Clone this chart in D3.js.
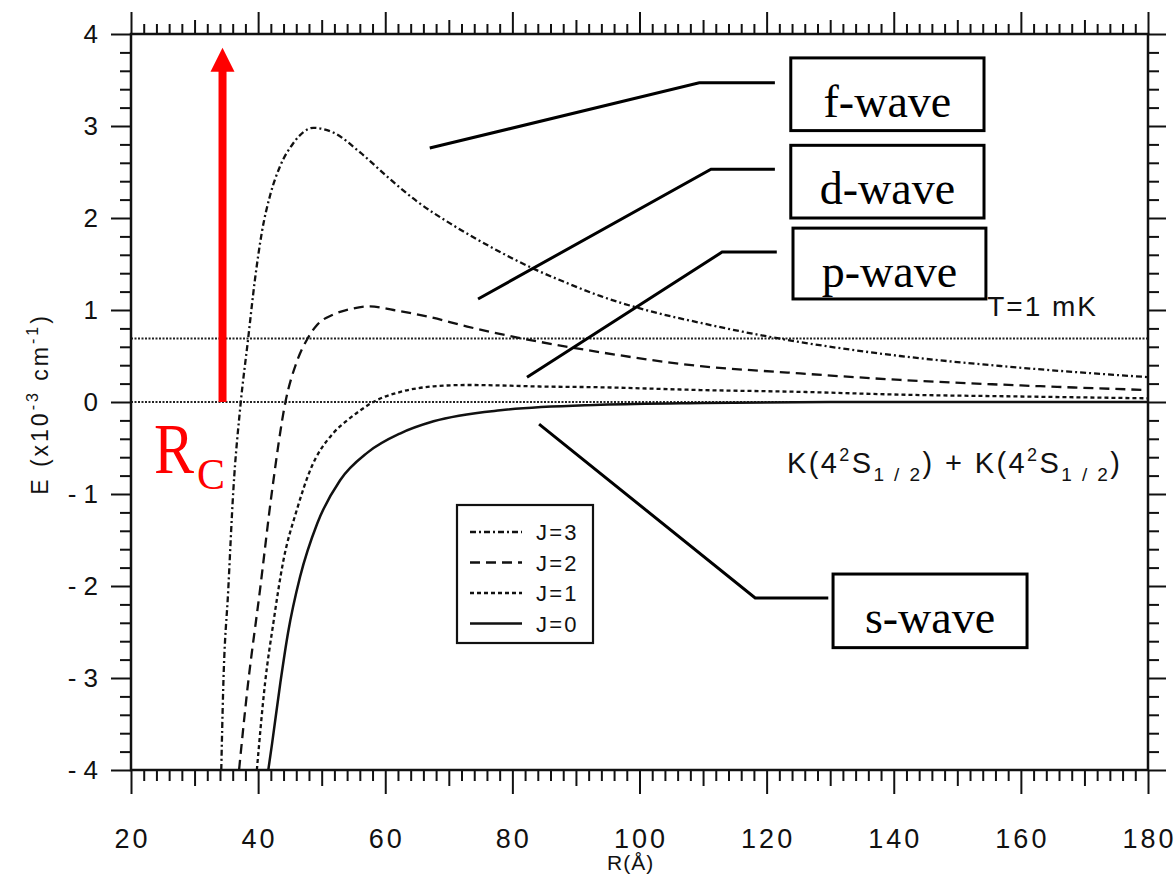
<!DOCTYPE html>
<html>
<head>
<meta charset="utf-8">
<script src="https://cdn.jsdelivr.net/npm/d3@7"></script>
<style>
body { margin: 0; background: #fff; }
svg { display: block; }
</style>
</head>
<body>
<div id="chart"></div>
<script>
// ---- data (R in Angstrom, E in 1e-3 cm^-1) ----
var rJ3 = [34.2, 34.5, 35.3, 36.1, 37.2, 38.4, 39.5, 40.6, 41.9, 43.5, 45.5, 48.7, 51.8, 56.1, 60.3, 65.0, 70.7, 77.0, 83.3, 88.7, 93.9, 101, 109.6, 118, 125.4, 141, 157, 180];
var eJ3 = [-4.0, -3.13, -2.04, -0.96, -0.05, 0.67, 1.33, 1.85, 2.25, 2.57, 2.81, 2.98, 2.93, 2.71, 2.45, 2.18, 1.92, 1.67, 1.45, 1.29, 1.15, 1.0, 0.86, 0.74, 0.65, 0.50, 0.39, 0.27];

var rJ2 = [37.0, 38.3, 40.3, 42.2, 44.3, 46.1, 47.7, 49.3, 51.8, 54.5, 57.6, 61.3, 66.6, 72.9, 80.8, 88.7, 93.9, 109.6, 123.3, 141, 160, 180];
var eJ2 = [-4.0, -3.13, -2.04, -0.96, 0.0, 0.44, 0.68, 0.84, 0.95, 1.01, 1.04, 1.0, 0.93, 0.82, 0.70, 0.60, 0.54, 0.39, 0.32, 0.24, 0.18, 0.13];

var rJ1 = [39.8, 41.1, 42.4, 43.9, 46.1, 48.2, 51.8, 54.0, 56.1, 58.1, 62.4, 67.6, 72.9, 78.1, 83.3, 93.9, 109.6, 125.4, 141, 160, 180];
var eJ1 = [-4.0, -3.05, -2.4, -1.75, -1.17, -0.74, -0.34, -0.2, -0.09, 0.0, 0.11, 0.17, 0.185, 0.18, 0.17, 0.16, 0.13, 0.11, 0.08, 0.06, 0.04];

var rJ0 = [41.6, 42.2, 43.5, 44.7, 46.6, 49.3, 52.9, 57.2, 62.4, 67.6, 78.1, 93.9, 110, 130, 180];
var eJ0 = [-4.0, -3.71, -3.05, -2.51, -1.9, -1.32, -0.85, -0.55, -0.34, -0.21, -0.09, -0.03, -0.01, 0, 0];

var seriesNames = ["J=3", "J=2", "J=1", "J=0"];
var refLevels = [0, 0.69];           // E=0 and kT at 1 mK
var xTicks = [20, 40, 60, 80, 100, 120, 140, 160, 180];
var yTicks = [-4, -3, -2, -1, 0, 1, 2, 3, 4];

// annotation boxes [R0, R1, Etop, Ebottom] and leader lines [[R,E],...]
var waveNames = ["f-wave", "d-wave", "p-wave", "s-wave"];
var waveBoxes = [[123.8, 154.2, 3.74, 2.95], [123.8, 154.2, 2.79, 2.0], [124.15, 154.5, 1.89, 1.12], [130.45, 160.97, -1.87, -2.67]];
var waveLeaders = [
  [[67.0, 2.76], [109.4, 3.47], [121.3, 3.47]],
  [[74.6, 1.12], [111.25, 2.53], [121.3, 2.53]],
  [[82.3, 0.27], [113.0, 1.63], [121.6, 1.63]],
  [[84.2, -0.24], [118.2, -2.13], [129.7, -2.13]]
];
var rcPosition = 34.4;   // R_C arrow
var rcTop = 3.85;

// ---- layout ----
var W = 1176, H = 875;
var x = d3.scaleLinear().domain([20, 180]).range([131, 1148]);
var y = d3.scaleLinear().domain([-4, 4]).range([770, 34]);
var sans = "'Liberation Sans', Arial, Helvetica, sans-serif";
var serif = "'Liberation Serif', 'Times New Roman', serif";

var svg = d3.select("#chart").append("svg").attr("width", W).attr("height", H);

svg.append("clipPath").attr("id", "plotclip")
  .append("rect")
  .attr("x", x(20)).attr("y", y(4))
  .attr("width", x(180) - x(20)).attr("height", y(-4) - y(4));

// reference dotted lines
svg.selectAll(".ref").data(refLevels).enter().append("line")
  .attr("x1", x(20)).attr("x2", x(180))
  .attr("y1", function(d){ return y(d); }).attr("y2", function(d){ return y(d); })
  .attr("stroke", "#222").attr("stroke-width", 1.8).attr("stroke-dasharray", "2,1.5");

// curves
var styles = [
  { r: rJ3, e: eJ3, dash: "6,3,2,3", w: 2.3 },
  { r: rJ2, e: eJ2, dash: "10,6", w: 2.3 },
  { r: rJ1, e: eJ1, dash: "4,3", w: 2.3 },
  { r: rJ0, e: eJ0, dash: null, w: 2.5 }
];
var line = d3.line()
  .x(function(d){ return x(d[0]); })
  .y(function(d){ return y(d[1]); })
  .curve(d3.curveMonotoneX);

var curves = svg.append("g").attr("clip-path", "url(#plotclip)");
styles.forEach(function(s){
  var pts = s.r.map(function(r, i){ return [r, s.e[i]]; });
  curves.append("path")
    .attr("d", line(pts))
    .attr("fill", "none")
    .attr("stroke", "#111")
    .attr("stroke-width", s.w)
    .attr("stroke-dasharray", s.dash);
});

// ---- axes (ticks outward on all four sides) ----
var minorX = d3.range(20, 181, 2).filter(function(v){ return v % 10 !== 0; });
var midX = d3.range(30, 180, 20);
var minorY = d3.range(-20, 21).map(function(i){ return i / 5; }).filter(function(v){ return Math.abs(v - Math.round(v)) > 1e-6; });

function tickAxis(axisFn, scale, values, size, pos) {
  var g = svg.append("g").attr("transform", pos)
    .call(axisFn(scale).tickValues(values).tickSize(size).tickFormat(""));
  g.select(".domain").remove();
  g.selectAll(".tick line").attr("stroke", "#111").attr("stroke-width", 2);
  return g;
}
// bottom
tickAxis(d3.axisBottom, x, xTicks, 24, "translate(0," + y(-4) + ")");
tickAxis(d3.axisBottom, x, midX, 16, "translate(0," + y(-4) + ")");
tickAxis(d3.axisBottom, x, minorX, 11, "translate(0," + y(-4) + ")");
// top
tickAxis(d3.axisTop, x, xTicks, 22, "translate(0," + y(4) + ")");
tickAxis(d3.axisTop, x, midX, 14, "translate(0," + y(4) + ")");
tickAxis(d3.axisTop, x, minorX, 10, "translate(0," + y(4) + ")");
// left
tickAxis(d3.axisLeft, y, yTicks, 20, "translate(" + x(20) + ",0)");
tickAxis(d3.axisLeft, y, minorY, 11, "translate(" + x(20) + ",0)");
// right
tickAxis(d3.axisRight, y, yTicks, 18, "translate(" + x(180) + ",0)");
tickAxis(d3.axisRight, y, minorY, 11, "translate(" + x(180) + ",0)");

// frame
svg.append("rect")
  .attr("x", x(20)).attr("y", y(4))
  .attr("width", x(180) - x(20)).attr("height", y(-4) - y(4))
  .attr("fill", "none").attr("stroke", "#111").attr("stroke-width", 2.5);

// tick labels
svg.selectAll(".xl").data(xTicks).enter().append("text")
  .attr("x", function(d){ return x(d) + 1.5; }).attr("y", 848)
  .attr("text-anchor", "middle")
  .attr("font-family", sans).attr("font-size", 27).attr("fill", "#111")
  .attr("letter-spacing", 3)
  .text(function(d){ return d; });

svg.selectAll(".yl").data(yTicks).enter().append("text")
  .attr("x", 98).attr("y", function(d){ return y(d) + 9; })
  .attr("text-anchor", "end")
  .attr("font-family", sans).attr("font-size", 26).attr("fill", "#111")
  .text(function(d){ return d < 0 ? "- " + Math.abs(d) : d; });

// axis titles
svg.append("text")
  .attr("x", 607).attr("y", 870)
  .attr("font-family", sans).attr("font-size", 21).attr("fill", "#111")
  .attr("letter-spacing", 1)
  .text("R(Å)");

var yt = svg.append("text")
  .attr("transform", "translate(48," + (y(0) + 2) + ") rotate(-90)")
  .attr("text-anchor", "middle")
  .attr("font-family", sans).attr("font-size", 23).attr("fill", "#111")
  .attr("letter-spacing", 3);
yt.append("tspan").text("E (x10");
yt.append("tspan").attr("font-size", 16).attr("dy", -10).text("-3");
yt.append("tspan").attr("dy", 10).text(" cm");
yt.append("tspan").attr("font-size", 16).attr("dy", -10).text("-1");
yt.append("tspan").attr("dy", 10).text(")");

// in-plot texts
svg.append("text")
  .attr("x", x(154.7)).attr("y", y(0.93))
  .attr("font-family", sans).attr("font-size", 28).attr("fill", "#111")
  .attr("letter-spacing", 2)
  .text("T=1 mK");

var kt = svg.append("text")
  .attr("x", x(123.2)).attr("y", y(-0.77))
  .attr("font-family", sans).attr("font-size", 29).attr("fill", "#111")
  .attr("letter-spacing", 2.4);
[0, 1].forEach(function(k){
  kt.append("tspan").text(k === 0 ? "K(4" : " + K(4");
  kt.append("tspan").attr("font-size", 18).attr("dy", -12).text("2");
  kt.append("tspan").attr("dy", 12).text("S");
  kt.append("tspan").attr("font-size", 19).attr("dy", 8).text("1 / 2");
  kt.append("tspan").attr("dy", -8).text(")");
});

// legend
var lg = svg.append("g");
lg.append("rect").attr("x", 457).attr("y", 505).attr("width", 136).attr("height", 138)
  .attr("fill", "#fff").attr("stroke", "#111").attr("stroke-width", 2.2);
seriesNames.forEach(function(name, i){
  var yy = 532 + i * 30.5;
  lg.append("line").attr("x1", 470).attr("x2", 522).attr("y1", yy).attr("y2", yy)
    .attr("stroke", "#111").attr("stroke-width", styles[i].w)
    .attr("stroke-dasharray", styles[i].dash);
  lg.append("text").attr("x", 536).attr("y", yy + 8)
    .attr("font-family", sans).attr("font-size", 22).attr("fill", "#111")
    .attr("letter-spacing", 2.2)
    .text(name);
});

// wave label boxes and leader lines
var leader = d3.line().x(function(d){ return x(d[0]); }).y(function(d){ return y(d[1]); });
waveNames.forEach(function(name, i){
  var b = waveBoxes[i];
  svg.append("path").attr("d", leader(waveLeaders[i]))
    .attr("fill", "none").attr("stroke", "#000").attr("stroke-width", 3);
  svg.append("rect")
    .attr("x", x(b[0])).attr("y", y(b[2]))
    .attr("width", x(b[1]) - x(b[0])).attr("height", y(b[3]) - y(b[2]))
    .attr("fill", "#fff").attr("stroke", "#000").attr("stroke-width", 3);
  svg.append("text")
    .attr("x", (x(b[0]) + x(b[1])) / 2).attr("y", y(b[2]) + 59)
    .attr("text-anchor", "middle")
    .attr("font-family", serif).attr("font-size", 46).attr("fill", "#000")
    .text(name);
});

// R_C arrow
var red = "#ff0000";
svg.append("line")
  .attr("x1", x(rcPosition)).attr("x2", x(rcPosition))
  .attr("y1", y(0)).attr("y2", y(rcTop) + 22)
  .attr("stroke", red).attr("stroke-width", 8);
svg.append("path")
  .attr("d", "M" + x(rcPosition) + "," + y(rcTop) +
             " L" + (x(rcPosition) - 12) + "," + (y(rcTop) + 24) +
             " L" + (x(rcPosition) + 12) + "," + (y(rcTop) + 24) + " Z")
  .attr("fill", red);
svg.append("text").attr("x", 154).attr("y", y(-0.77))
  .attr("font-family", serif).attr("font-size", 72).attr("fill", red)
  .attr("textLength", 40).attr("lengthAdjust", "spacingAndGlyphs")
  .text("R");
svg.append("text").attr("x", 197).attr("y", y(-0.95))
  .attr("font-family", serif).attr("font-size", 45).attr("fill", red)
  .attr("textLength", 28).attr("lengthAdjust", "spacingAndGlyphs")
  .text("C");
</script>
</body>
</html>
